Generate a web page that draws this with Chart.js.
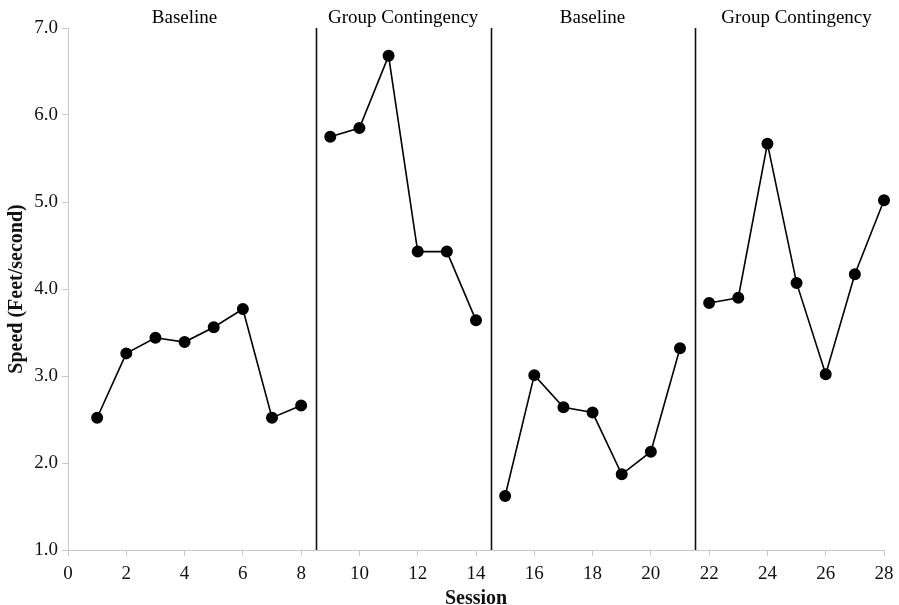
<!DOCTYPE html>
<html>
<head>
<meta charset="utf-8">
<script src="https://cdn.jsdelivr.net/npm/chart.js@4/dist/chart.umd.min.js"></script>
<style>
  body { margin: 0; background: #fff; }
  #wrap { width: 899px; height: 605px; }
</style>
</head>
<body>
<div id="wrap"><canvas id="speed-chart"></canvas></div>
<script>
// Session data
const sessions = [1, 2, 3, 4, 5, 6, 7, 8, 9, 10, 11, 12, 13, 14, 15, 16, 17, 18, 19, 20, 21, 22, 23, 24, 25, 26, 27, 28];
const speed = [2.52, 3.26, 3.44, 3.39, 3.56, 3.77, 2.52, 2.66,
               5.75, 5.85, 6.68, 4.43, 4.43, 3.64,
               1.62, 3.01, 2.64, 2.58, 1.87, 2.13, 3.32,
               3.84, 3.90, 5.67, 4.07, 3.02, 4.17, 5.02];
const phaseBreaks = [8.5, 14.5, 21.5];
const phaseLabels = ['Baseline', 'Group Contingency', 'Baseline', 'Group Contingency'];
const phaseLabelX = [4, 11.5, 18, 25];
const xTicks = [0, 2, 4, 6, 8, 10, 12, 14, 16, 18, 20, 22, 24, 26, 28];
const yTicks = [1, 2, 3, 4, 5, 6, 7];

const serif = '"Liberation Serif", "DejaVu Serif", serif';

// split points into one dataset per phase so lines break at phase changes
const bounds = [-Infinity, ...phaseBreaks, Infinity];
const datasets = phaseLabels.map((label, i) => ({
    label: label,
    data: sessions
        .map((s, j) => ({ x: s, y: speed[j] }))
        .filter(p => p.x > bounds[i] && p.x < bounds[i + 1]),
    borderColor: '#000',
    backgroundColor: '#000',
    borderWidth: 1.6,
    pointRadius: 5.2,
    pointHoverRadius: 5.2,
    tension: 0,
    clip: false
}));

// phase change lines + phase labels
const phasePlugin = {
    id: 'phases',
    afterDatasetsDraw(chart) {
        const { ctx, chartArea, scales } = chart;
        ctx.save();
        ctx.strokeStyle = '#111';
        ctx.lineWidth = 1.6;
        phaseBreaks.forEach(b => {
            const x = Math.round(scales.x.getPixelForValue(b)) + 0.5;
            ctx.beginPath();
            ctx.moveTo(x, chartArea.top);
            ctx.lineTo(x, chartArea.bottom);
            ctx.stroke();
        });
        ctx.fillStyle = '#000';
        ctx.font = '19px ' + serif;
        ctx.textAlign = 'center';
        ctx.textBaseline = 'middle';
        phaseLabels.forEach((t, i) => {
            ctx.fillText(t, scales.x.getPixelForValue(phaseLabelX[i]), chartArea.top - 10);
        });
        ctx.restore();
    }
};

new Chart(document.getElementById('speed-chart'), {
    type: 'line',
    data: { datasets: datasets },
    options: {
        responsive: true,
        maintainAspectRatio: false,
        animation: false,
        layout: { padding: { top: 28, right: 15, left: 0, bottom: 0 } },
        plugins: {
            legend: { display: false },
            tooltip: { enabled: false }
        },
        scales: {
            x: {
                type: 'linear',
                min: 0,
                max: 28,
                afterFit: s => { s.height = 55; s.paddingLeft = 0; s.paddingRight = 0; },
                afterBuildTicks: s => { s.ticks = xTicks.map(v => ({ value: v })); },
                grid: { display: true, drawOnChartArea: false, drawTicks: true, tickLength: 6, color: '#c8c8c8' },
                border: { color: '#c8c8c8', width: 1 },
                ticks: { color: '#111', font: { family: serif, size: 19 }, padding: 7, maxRotation: 0 },
                title: {
                    display: true,
                    text: 'Session',
                    color: '#111',
                    font: { family: serif, size: 20, weight: 'bold', lineHeight: 0.6 },
                    padding: { top: 0, bottom: 0 }
                }
            },
            y: {
                type: 'linear',
                min: 1,
                max: 7,
                afterFit: s => { s.width = 68; s.paddingTop = 0; s.paddingBottom = 0; },
                afterBuildTicks: s => { s.ticks = yTicks.map(v => ({ value: v })); },
                grid: { display: true, drawOnChartArea: false, drawTicks: true, tickLength: 6, color: '#c8c8c8' },
                border: { color: '#c8c8c8', width: 1 },
                ticks: {
                    color: '#111',
                    font: { family: serif, size: 19 },
                    padding: 4,
                    callback: v => v.toFixed(1)
                },
                title: {
                    display: true,
                    text: 'Speed (Feet/second)',
                    color: '#111',
                    font: { family: serif, size: 20, weight: 'bold', lineHeight: 1 },
                    padding: { top: 7, bottom: 0 }
                }
            }
        }
    },
    plugins: [phasePlugin]
});
</script>
</body>
</html>
